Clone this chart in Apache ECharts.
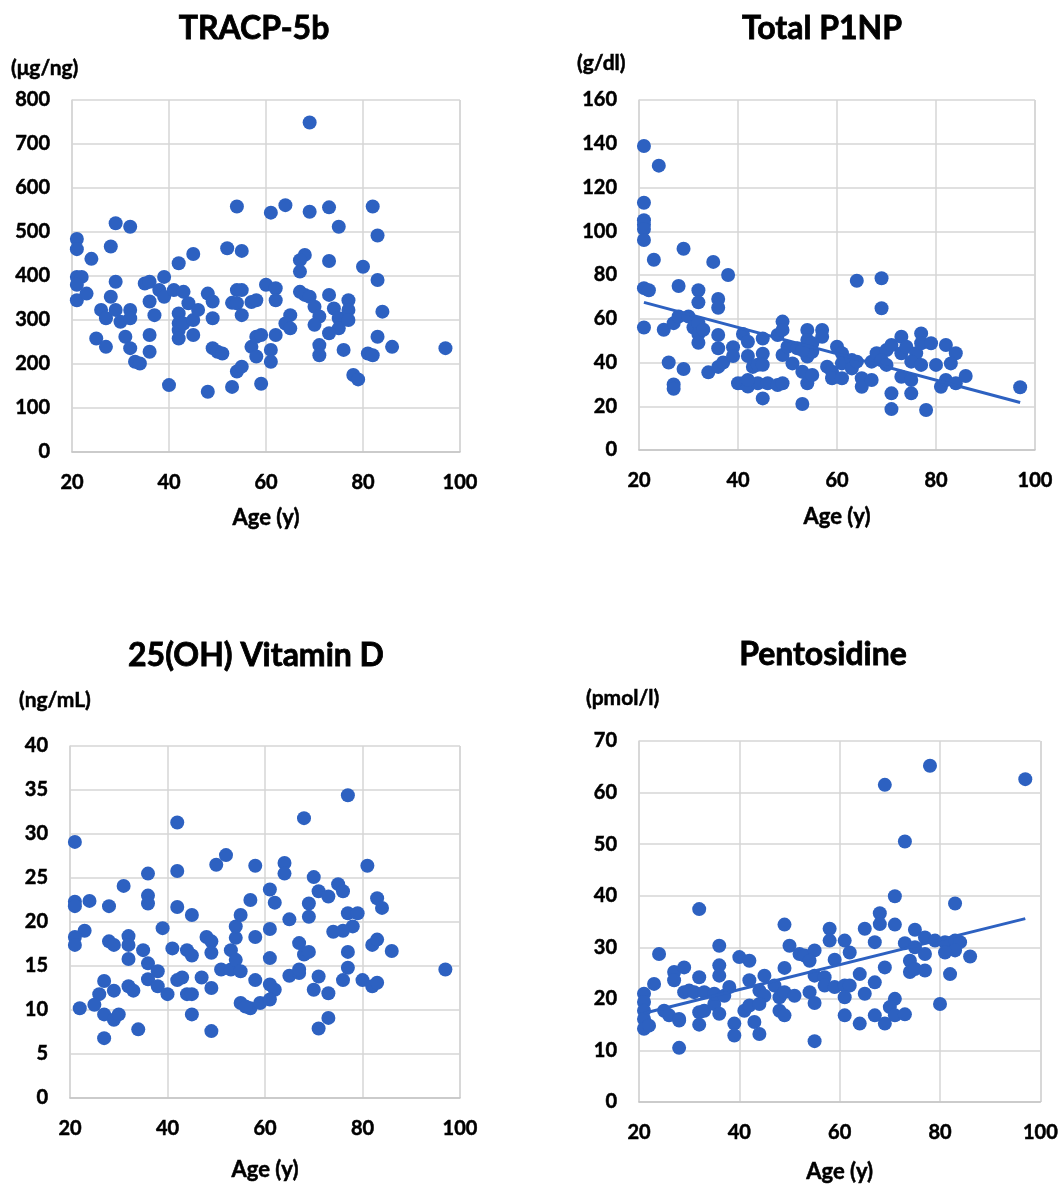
<!DOCTYPE html>
<html>
<head>
<meta charset="utf-8">
<script src="https://cdn.jsdelivr.net/npm/echarts@6/dist/echarts.min.js"></script>
<style>
  html, body { margin: 0; padding: 0; background: #fff; }
  #chart { width: 1061px; height: 1185px; }
</style>
</head>
<body>
<div id="chart"></div>
<script>
// Serum bone markers against age, [age (y), value]
const tracp5b = [
  [21,484],[21,461],[24,439],[29,520],[32,512],[28,467],[21,398],[22,398],[21,380],[21,345],
  [23,360],[29,387],[28,353],[26,323],[27,304],[29,323],[30,296],[32,323],[32,304],[25,258],
  [27,239],[31,262],[32,236],[33,205],[34,201],[35,383],[36,387],[36,342],[37,311],[36,266],
  [36,228],[39,398],[38,368],[39,353],[41,368],[43,364],[42,429],[45,450],[44,338],[42,315],
  [42,292],[42,277],[42,258],[43,292],[45,300],[45,266],[46,323],[48,360],[49,342],[49,304],
  [40,152],[48,137],[49,236],[50,228],[51,224],[53,148],[52,463],[55,457],[54,558],[54,368],
  [55,368],[53,339],[54,338],[55,311],[54,183],[55,194],[57,239],[57,341],[58,345],[58,262],
  [58,217],[59,155],[69,749],[61,544],[64,561],[69,546],[73,556],[75,512],[82,558],[83,492],
  [68,448],[67,436],[67,410],[73,434],[80,421],[83,391],[60,380],[62,372],[62,345],[67,364],
  [68,357],[69,353],[73,357],[70,330],[71,308],[70,289],[74,326],[75,304],[75,281],[73,270],
  [77,345],[77,323],[77,300],[65,311],[64,292],[65,281],[62,266],[59,266],[61,232],[61,205],
  [71,243],[71,220],[76,232],[81,224],[82,220],[83,262],[86,239],[97,236],[78,175],[79,165],
  [84,319]
];

const totalP1NP = [
  [21,139],[24,130],[21,113],[21,105],[21,103],[21,101],[21,96],[23,87],[21,74],[22,73],
  [21,56],[29,92],[28,75],[32,73],[32,67.5],[35,86],[38,80],[36,69],[36,65],[25,55],
  [27,58],[28,61],[30,61],[31,56],[32,58],[32,53],[33,55],[32,49],[26,40],[27,30],
  [27,28],[29,37],[34,35.5],[36,52.6],[36,46.5],[36,38],[37,40],[39,47],[39,43],[41,53],
  [42,49.5],[42,43],[43,38],[44,39],[45,51],[45,44],[45,39],[40,30.5],[41,30.5],[42,29],
  [44,30.5],[42,32],[45,23.6],[46,30.5],[48,29.7],[49,30.5],[49,58.7],[48,52.6],[49,54.9],[49,43.4],
  [50,47.2],[52,46.5],[51,39.6],[53,35.8],[53,21],[54,54.9],[54,50.3],[54,30.5],[55,34.3],[54,42.7],
  [55,44.9],[57,54.9],[57,51.8],[58,38.1],[55,48.8],[53,45.7],[59,35.8],[59,32.8],[60,47.2],[61,44.2],
  [61,39.6],[61,32.8],[63,41.1],[63,37.3],[64,40.4],[64,77.4],[69,78.5],[69,64.8],[65,32.8],[65,28.9],
  [67,32],[67,40.4],[68,44.2],[70,45.7],[71,48],[69,41.1],[70,38.9],[73,51.8],[71,25.9],[71,18.7],
  [73,44.2],[74,47.2],[76,44.2],[75,40.4],[73,33.5],[75,32],[75,25.9],[77,53.3],[77,48.8],[79,48.8],
  [77,38.9],[80,38.9],[78,18.3],[82,48],[84,44.2],[83,39.6],[81,28.9],[82,32],[84,30.5],[86,33.8],
  [97,28.7]
];

const vitaminD = [
  [21,29.1],[21,22.3],[21,21.8],[24,22.4],[23,19],[21,18.3],[21,17.4],[22,10.2],[28,21.8],[31,24.1],
  [36,25.5],[36,23],[36,22.1],[28,17.8],[29,17.4],[32,18.4],[32,17.4],[32,15.8],[35,16.8],[39,19.3],
  [36,15.3],[38,14.4],[36,13.5],[27,13.3],[26,11.8],[29,12.2],[32,12.7],[33,12.2],[25,10.6],[27,9.5],
  [29,8.9],[30,9.5],[27,6.8],[34,7.8],[38,12.7],[40,11.8],[42,31.3],[42,25.8],[42,21.7],[45,20.8],
  [41,17],[42,13.4],[43,13.7],[44,16.8],[45,16.2],[44,11.8],[45,11.8],[45,9.5],[47,13.7],[49,12.5],
  [48,18.3],[49,17.8],[49,16.5],[49,7.6],[50,26.5],[52,27.6],[51,14.6],[53,14.6],[53,16.8],[54,15.7],
  [54,18.2],[54,19.5],[55,20.8],[55,14.4],[57,22.5],[58,26.4],[55,10.8],[57,10.2],[58,18.3],[58,13.4],
  [77,34.4],[68,31.8],[64,26.7],[64,25.5],[81,26.4],[70,25.1],[61,23.7],[62,22.2],[71,23.5],[73,22.9],
  [75,24.3],[76,23.5],[69,22.1],[69,20.6],[83,22.7],[84,21.6],[77,21],[79,21],[78,19.5],[65,20.3],
  [61,19.2],[74,18.9],[76,19],[67,17.6],[68,16.3],[69,16.6],[82,17.4],[83,18],[86,16.7],[77,16.6],
  [61,15.9],[65,13.9],[67,14.2],[67,14.6],[77,14.8],[71,13.8],[76,13.4],[80,13.4],[82,12.7],[83,13.1],
  [97,14.6],[61,12.9],[62,12.3],[70,12.3],[73,11.9],[56,10.4],[59,10.8],[61,11.2],[73,9.1],[71,7.9]
];

const pentosidine = [
  [32,37.4],[24,28.7],[36,30.3],[36,26.5],[36,24.5],[32,24.2],[27,25.2],[29,26.1],[27,23.6],[23,22.9],
  [21,21],[21,19.4],[21,17.7],[21,16.1],[21,14.2],[22,14.8],[25,17.7],[26,16.8],[28,16.1],[28,15.8],
  [28,10.5],[29,21.3],[30,21.6],[31,21.3],[33,21.3],[32,17.4],[32,15],[33,17.7],[35,19],[36,17.1],
  [35,21],[37,20.6],[38,22.3],[39,15.2],[39,12.9],[40,28.1],[42,27.4],[42,23.6],[41,17.7],[42,18.7],
  [43,15.5],[44,13.2],[45,24.5],[44,21.6],[45,20.6],[44,19],[47,22.6],[48,20.3],[48,17.7],[49,16.8],
  [49,34.4],[50,30.3],[49,26],[49,21.3],[51,20.6],[52,28.7],[53,28.4],[55,29.4],[54,27.4],[54,21.3],
  [55,19.2],[55,11.8],[55,24.5],[58,33.6],[58,31.3],[78,65.2],[69,61.5],[97,62.6],[73,50.5],[71,39.9],
  [83,38.5],[68,36.6],[68,34.5],[71,34.4],[65,33.6],[67,31],[75,33.4],[61,31.3],[62,29],[73,30.8],
  [75,30],[77,31.9],[79,31.3],[77,28.7],[81,31],[83,31.3],[84,31],[83,29.4],[81,29],[86,28.2],
  [82,24.8],[80,19],[59,27.6],[57,24.2],[57,22.6],[59,22.3],[61,22.6],[62,22.6],[61,20.3],[64,24.8],
  [65,21],[67,23.2],[69,26.1],[74,27.4],[74,25.2],[75,25.8],[77,25.5],[71,20],[70,18.4],[71,16.8],
  [73,17],[67,16.8],[69,15.2],[61,16.8],[64,15.2]
];

const ageTicks = { min: 20, max: 100, interval: 20 };
const panelTitles = ['TRACP-5b', 'Total P1NP', '25(OH) Vitamin D', 'Pentosidine'];
const panelUnits = ['(μg/ng)', '(g/dl)', '(ng/mL)', '(pmol/l)'];
const yScales = [
  { min: 0, max: 800, interval: 100 },
  { min: 0, max: 160, interval: 20 },
  { min: 0, max: 40, interval: 5 },
  { min: 0, max: 70, interval: 10 }
];
const xLabel = 'Age (y)';

// Ordinary least-squares line across the observed age range
function linearFit(points) {
  const n = points.length;
  let sx = 0, sy = 0, sxx = 0, sxy = 0;
  points.forEach(([x, y]) => { sx += x; sy += y; sxx += x * x; sxy += x * y; });
  const slope = (n * sxy - sx * sy) / (n * sxx - sx * sx);
  const intercept = (sy - slope * sx) / n;
  const xs = points.map(p => p[0]);
  const x0 = Math.min(...xs), x1 = Math.max(...xs);
  return [[x0, intercept + slope * x0], [x1, intercept + slope * x1]];
}

const FONT = 'Lato, "Open Sans", sans-serif';
const BLUE = '#2d61c1';
const GRID_COLOR = '#d6d6d6';

const grids = [
  { left: 72,  top: 100, width: 388, height: 352 },
  { left: 639, top: 100, width: 396, height: 350 },
  { left: 70,  top: 746, width: 390, height: 352 },
  { left: 639, top: 741, width: 402, height: 361 }
];
const nameGaps = [55, 56, 61, 59];

const titlePos = [[254, 29], [822, 29], [256, 656], [823, 655]];
const unitPos = [[11, 68], [577, 63], [19, 700], [586, 698]];

const chart = echarts.init(document.getElementById('chart'), null, { renderer: 'canvas' });

// slight outline gives the heavier bold look of the labels
const labelStyle = {
  color: '#000', fontWeight: 'bold', fontSize: 20, fontFamily: FONT,
  textBorderColor: '#000', textBorderWidth: 0.5
};

const option = {
  backgroundColor: '#fff',
  animation: false,
  grid: grids.map(g => Object.assign({ containLabel: false }, g)),
  xAxis: grids.map((g, i) => ({
    type: 'value', gridIndex: i,
    min: ageTicks.min, max: ageTicks.max, interval: ageTicks.interval,
    name: xLabel, nameLocation: 'middle', nameGap: nameGaps[i],
    nameTextStyle: {
      color: '#000', fontWeight: 'bold', fontSize: 22, fontFamily: FONT,
      textBorderColor: '#000', textBorderWidth: 0.5
    },
    axisLine: { show: true, lineStyle: { color: '#c4c4c4', width: 1.5 } },
    axisTick: { show: false },
    axisLabel: Object.assign({ margin: 21 }, labelStyle),
    splitLine: { show: true, lineStyle: { color: GRID_COLOR, width: 1.5 } }
  })),
  yAxis: grids.map((g, i) => ({
    type: 'value', gridIndex: i,
    min: yScales[i].min, max: yScales[i].max, interval: yScales[i].interval,
    axisLine: { show: true, lineStyle: { color: GRID_COLOR, width: 1.5 } },
    axisTick: { show: false },
    axisLabel: Object.assign({ margin: 22 }, labelStyle),
    splitLine: { show: true, lineStyle: { color: GRID_COLOR, width: 1.5 } }
  })),
  graphic: [
    ...panelTitles.map((t, i) => ({
      type: 'text', x: titlePos[i][0], y: titlePos[i][1],
      style: {
        text: t, fill: '#000', font: 'bold 32px ' + FONT, align: 'center', verticalAlign: 'middle',
        stroke: '#000', lineWidth: 0.8
      }
    })),
    ...panelUnits.map((t, i) => ({
      type: 'text', x: unitPos[i][0], y: unitPos[i][1],
      style: {
        text: t, fill: '#000', font: 'bold 21px ' + FONT, align: 'left', verticalAlign: 'middle',
        stroke: '#000', lineWidth: 0.5
      }
    })),
    // right border of each plot area
    ...grids.map(g => ({
      type: 'line', silent: true,
      shape: { x1: g.left + g.width, y1: g.top, x2: g.left + g.width, y2: g.top + g.height },
      style: { stroke: GRID_COLOR, lineWidth: 1.5 }
    }))
  ],
  series: [
    { type: 'scatter', xAxisIndex: 0, yAxisIndex: 0, data: tracp5b, symbolSize: 14, itemStyle: { color: BLUE, opacity: 1 } },
    { type: 'scatter', xAxisIndex: 1, yAxisIndex: 1, data: totalP1NP, symbolSize: 14, itemStyle: { color: BLUE, opacity: 1 } },
    { type: 'line', xAxisIndex: 1, yAxisIndex: 1, data: linearFit(totalP1NP), showSymbol: false, lineStyle: { color: BLUE, width: 3 }, z: 3 },
    { type: 'scatter', xAxisIndex: 2, yAxisIndex: 2, data: vitaminD, symbolSize: 14, itemStyle: { color: BLUE, opacity: 1 } },
    { type: 'scatter', xAxisIndex: 3, yAxisIndex: 3, data: pentosidine, symbolSize: 14, itemStyle: { color: BLUE, opacity: 1 } },
    { type: 'line', xAxisIndex: 3, yAxisIndex: 3, data: linearFit(pentosidine), showSymbol: false, lineStyle: { color: BLUE, width: 3 }, z: 3 }
  ]
};

chart.setOption(option);
</script>
</body>
</html>
